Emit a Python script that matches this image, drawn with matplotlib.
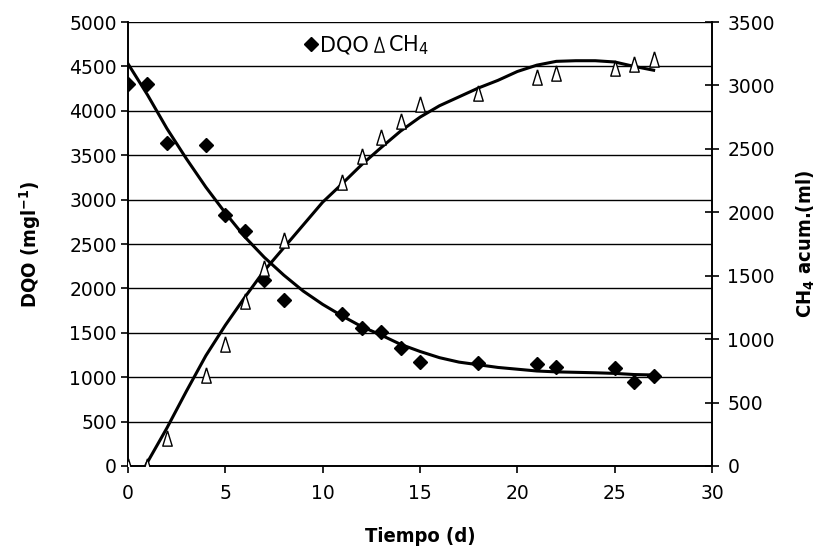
import matplotlib
matplotlib.use("Agg")
import matplotlib.pyplot as plt
from matplotlib.lines import Line2D

plt.rcParams['font.family'] = ['DejaVu Sans']
plt.rcParams['mathtext.default'] = 'regular'

# ---- data ----
days_dqo = [0, 1, 2, 4, 5, 6, 7, 8, 11, 12, 13, 14, 15, 18, 21, 22, 25, 26, 27]
dqo = [4300, 4300, 3640, 3620, 2830, 2650, 2100, 1870, 1710, 1550, 1510, 1325,
       1170, 1160, 1150, 1120, 1100, 950, 1010]

days_ch4 = [0, 1, 2, 4, 5, 6, 7, 8, 11, 12, 13, 14, 15, 18, 21, 22, 25, 26, 27]
ch4 = [0, 0, 220, 720, 960, 1300, 1560, 1780, 2240, 2440, 2590, 2720, 2855,
       2940, 3070, 3100, 3140, 3170, 3205]

# trend curves
dqo_fit_x = [0, 1, 2, 3, 4, 5, 6, 7, 8, 9, 10, 11, 12, 13, 14, 15, 16, 17, 18,
             19, 20, 21, 22, 23, 24, 25, 26, 27]
dqo_fit_y = [4530, 4180, 3800, 3460, 3140, 2850, 2580, 2350, 2150, 1970, 1820,
             1690, 1570, 1475, 1370, 1290, 1220, 1170, 1140, 1110, 1090, 1070,
             1060, 1055, 1050, 1043, 1030, 1025]

ch4_fit_x = [0.9, 1, 2, 3, 4, 5, 6, 7, 8, 9, 10, 11, 12, 13, 14, 15, 16, 17, 18,
             19, 20, 21, 22, 23, 24, 25, 26, 27]
ch4_fit_y = [0, 30, 300, 590, 870, 1110, 1330, 1540, 1720, 1900, 2080, 2225,
             2375, 2510, 2640, 2750, 2840, 2910, 2980, 3040, 3110, 3160, 3190,
             3195, 3195, 3185, 3150, 3120]

x_ticks = [0, 5, 10, 15, 20, 25, 30]
left_ticks = [0, 500, 1000, 1500, 2000, 2500, 3000, 3500, 4000, 4500, 5000]
right_ticks = [0, 500, 1000, 1500, 2000, 2500, 3000, 3500]

# ---- figure ----
fig = plt.figure(figsize=(8.19, 5.52), dpi=100)
ax = fig.add_axes([0.1563, 0.1558, 0.7131, 0.8043])
ax2 = ax.twinx()

FS = 13.5
tri = [(0, 1), (-0.62, -1), (0.62, -1), (0, 1)]

ax.set_xlim(0, 30)
ax.set_ylim(0, 5000)
ax2.set_ylim(0, 3500)
ax.set_xticks(x_ticks)
ax.set_yticks(left_ticks)
ax2.set_yticks(right_ticks)

ax.yaxis.grid(True, color='black', linewidth=1.0)
ax.set_axisbelow(True)

ax.plot(dqo_fit_x, dqo_fit_y, color='black', linewidth=2.2, zorder=3)
ax.plot(days_dqo, dqo, linestyle='none', marker='D', markersize=7.5,
        color='black', zorder=4)

ax2.plot(ch4_fit_x, ch4_fit_y, color='black', linewidth=2.2, zorder=3)
ax2.plot(days_ch4, ch4, linestyle='none', marker=tri, markersize=11,
         markerfacecolor='white', markeredgecolor='black',
         markeredgewidth=1.0, zorder=4)

for a in (ax, ax2):
    for s in a.spines.values():
        s.set_color('black')
        s.set_linewidth(1.2)
    a.spines['top'].set_visible(False)

ax.tick_params(axis='x', direction='out', length=5, width=1.2,
               labelsize=FS, pad=8)
ax.tick_params(axis='y', direction='out', length=5, width=1.2,
               labelsize=FS, pad=3)
ax2.tick_params(axis='y', direction='inout', length=10, width=1.2,
                labelsize=FS, pad=6)

lab_font = dict(fontsize=14.5, fontweight='bold', family=['DejaVu Sans'],
                fontstretch='condensed')
ax.set_xlabel('Tiempo (d)', labelpad=17, **lab_font)
ax.set_ylabel('DQO (mgl$^{-1}$)', labelpad=19, **lab_font)
ax2.set_ylabel('CH$_4$ acum.(ml)', labelpad=14, **lab_font)

handles = [
    Line2D([], [], linestyle='none', marker='D', markersize=7.5, color='black'),
    Line2D([], [], linestyle='none', marker=tri, markersize=11,
           markerfacecolor='white', markeredgecolor='black', markeredgewidth=1.0),
]
ax2.legend(handles, ['DQO', 'CH$_4$'], ncol=2, frameon=False,
           loc='center left', bbox_to_anchor=(0.3, 0.948), fontsize=15,
           handlelength=0.7, handletextpad=0.1, columnspacing=0.15,
           borderpad=0.0, borderaxespad=0.0)

fig.savefig('out.png', dpi=100)
